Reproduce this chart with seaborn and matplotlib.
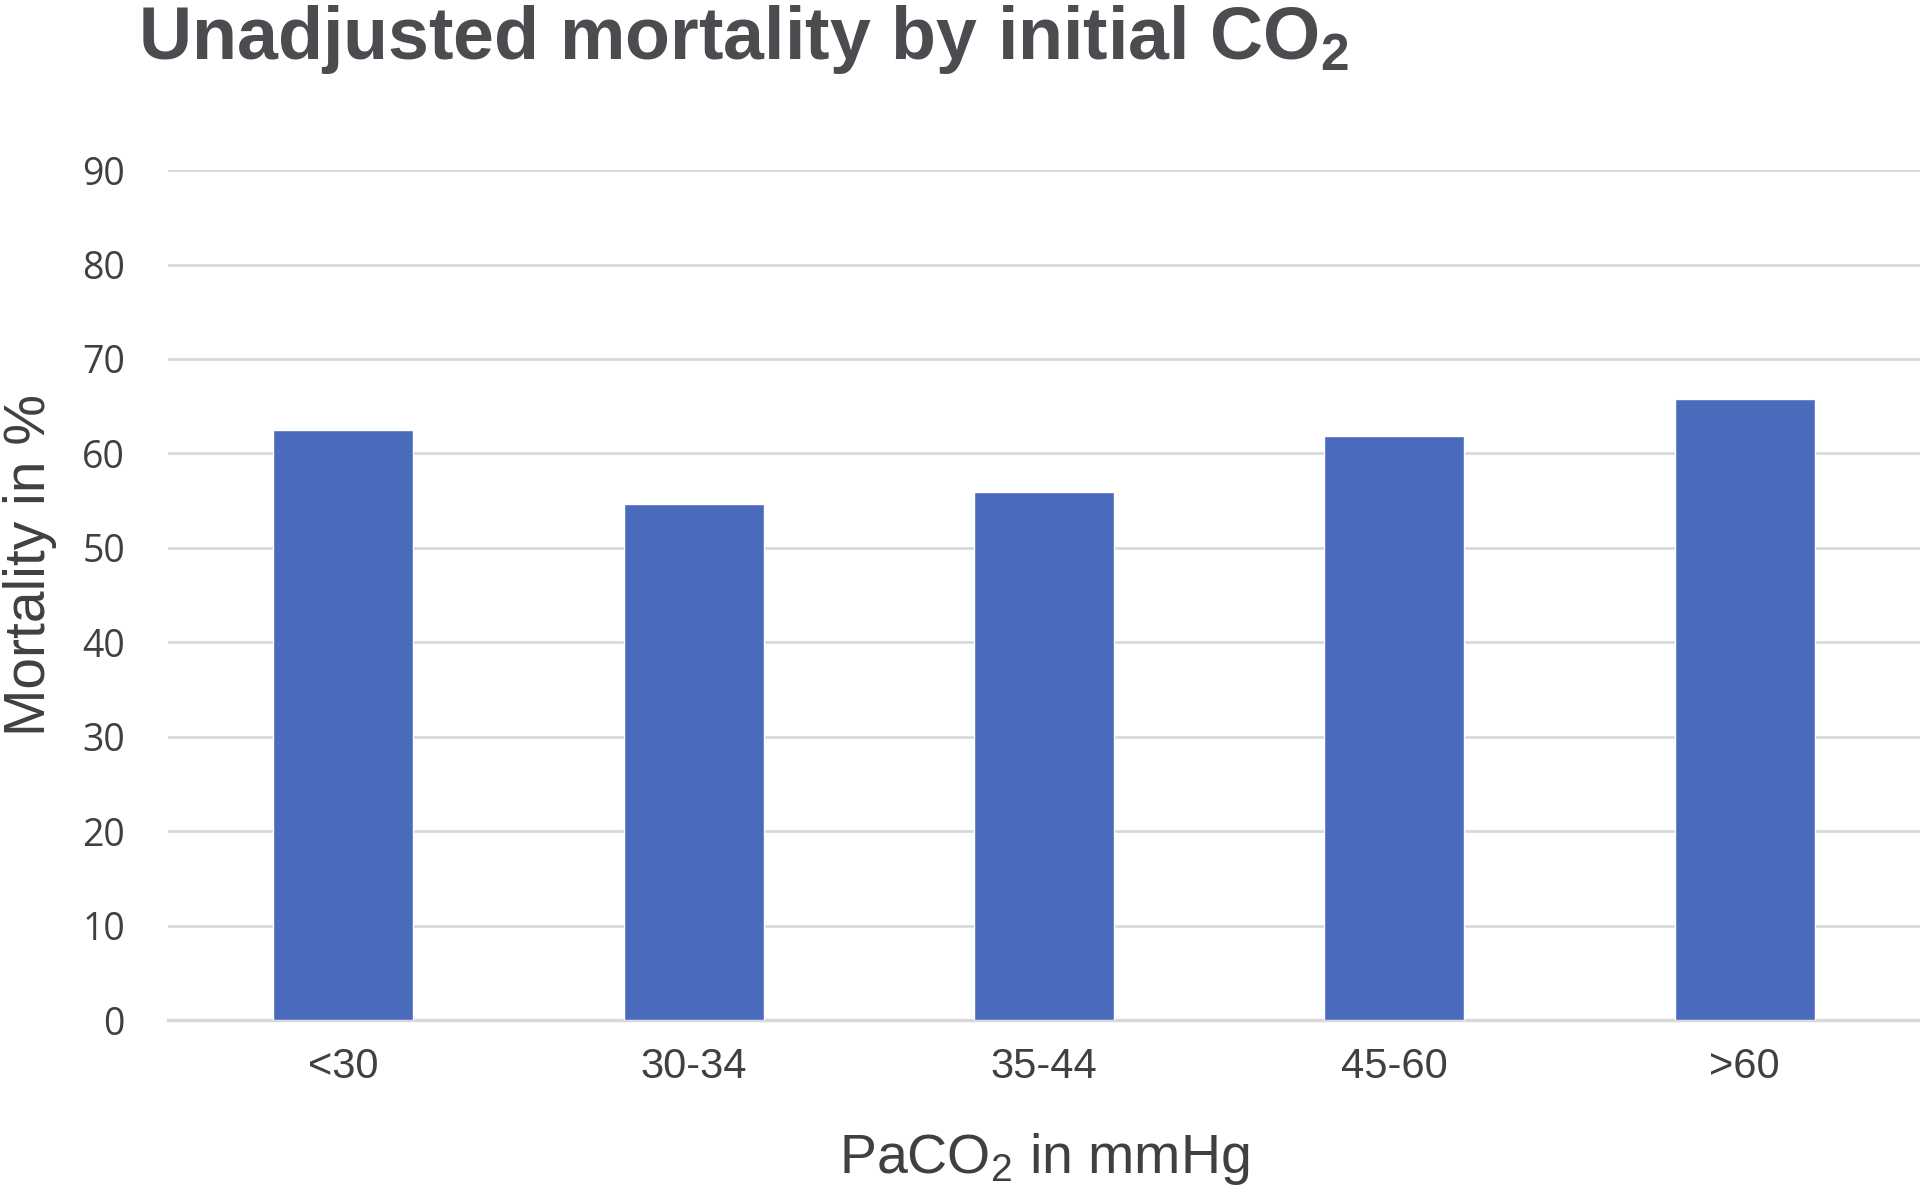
import pandas as pd
import seaborn as sns
import matplotlib.pyplot as plt

sns.set_theme(style="white")
plt.rcParams['font.family'] = ['Liberation Sans', 'DejaVu Sans']
plt.rcParams['mathtext.default'] = 'regular'

# values
groups = ["<30", "30-34", "35-44", "45-60", ">60"]
mortality = [62.5, 54.7, 55.9, 61.9, 65.8]
y_ticks = [0, 10, 20, 30, 40, 50, 60, 70, 80, 90]

df = pd.DataFrame({"group": groups, "mortality": mortality})

bar_color = "#4a6bbc"
text_dark = "#404040"
grid_gray = "#d9d9d9"

fig = plt.figure(figsize=(19.2, 11.85), dpi=100)
ax = fig.add_axes([0.0875, 0.139, 0.9125, 0.7175])

sns.barplot(data=df, x="group", y="mortality", color=bar_color,
            saturation=1, width=0.4, ax=ax, zorder=3)

ax.set_xlim(-0.5, 4.5)
ax.set_ylim(0, 90)
ax.set_yticks(y_ticks)
ax.yaxis.grid(True, color=grid_gray, linewidth=2, zorder=0)
ax.xaxis.grid(False)
for s in ["top", "right", "left"]:
    ax.spines[s].set_visible(False)
ax.spines["bottom"].set_color(grid_gray)
ax.spines["bottom"].set_linewidth(2.5)

ax.tick_params(axis="y", length=0, pad=31, labelsize=27, labelcolor=text_dark)
ax.tick_params(axis="x", length=0, pad=19, labelsize=30, labelcolor=text_dark)
for t in ax.get_yticklabels():
    t.set_fontfamily("Open Sans")

ax.set_ylabel("Mortality in %", fontsize=41, color=text_dark, va="center")
ax.yaxis.set_label_coords(-0.079, 0.535)
ax.set_xlabel("PaCO$_2$ in mmHg", fontsize=40, color=text_dark, va="baseline")
ax.xaxis.set_label_coords(0.5, -0.18)

fig.text(0.072, 0.950, "Unadjusted mortality by initial CO$_2$",
         fontsize=53, fontweight="bold", color="#4b4c50",
         ha="left", va="baseline")

fig.savefig("out.png", dpi=100)
plt.close(fig)
